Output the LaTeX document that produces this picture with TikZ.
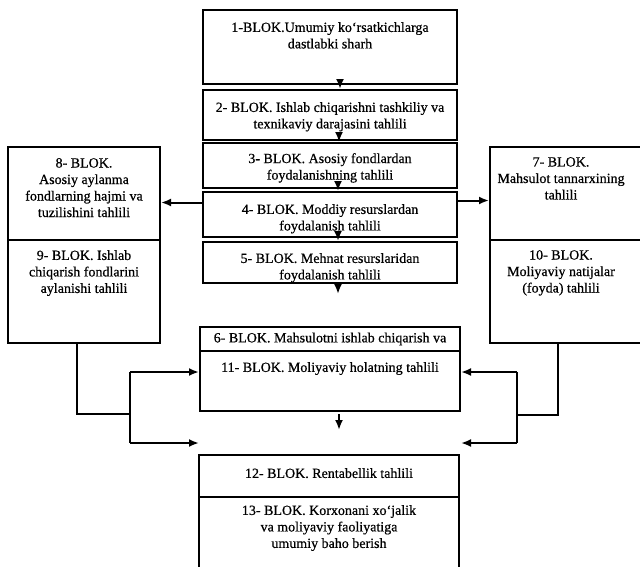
\documentclass[tikz,border=0pt]{standalone}
\usepackage{fontspec}
\setmainfont[FakeBold=0.6]{Liberation Serif}
\usetikzlibrary{arrows.meta}
\newcommand{\blk}[5]{\node[box, minimum width={#4-#2}, minimum height={#5-#3}] (#1) at ({(#2+#4)/2},{(#3+#5)/2}) {};}
\begin{document}
\begin{tikzpicture}[x=1pt,y=-1pt,
  box/.style={draw, line width=2pt, rectangle, inner sep=0pt},
  txt/.style={align=center, inner sep=0pt, anchor=north, font=\fontsize{14}{16.5}\selectfont},
  arr/.style={line width=2pt, -{Latex[length=10pt,width=8pt]}},
  ln/.style={line width=2pt}]
\useasboundingbox (0,0) rectangle (640,566);
% boxes
\blk{b1}{203}{10}{457}{84}
\blk{b2}{203}{90}{457}{140}
\blk{b3}{203}{143}{457}{188}
\blk{b4}{203}{192}{457}{237}
\blk{b5}{203}{242}{457}{283}
\blk{b8}{8}{147}{160}{240}
\blk{b9}{8}{240}{160}{343}
\blk{b7}{490}{147}{648}{240}
\blk{b10}{490}{240}{648}{343}
\blk{b6}{200}{327}{460}{351}
\blk{b11}{200}{351}{460}{411}
\blk{b12}{199}{455}{459}{497}
\blk{b13}{199}{497}{459}{572}
% texts
\node[txt] (t1) at ([yshift=-13pt]b1.north) {1-BLOK.Umumiy ko‘rsatkichlarga\\dastlabki sharh};
\node[txt] (t2) at ([yshift=-13pt]b2.north) {2- BLOK. Ishlab chiqarishni tashkiliy va\\texnikaviy darajasini tahlili};
\node[txt] (t3) at ([yshift=-11pt]b3.north) {3- BLOK. Asosiy fondlardan\\foydalanishning tahlili};
\node[txt] (t4) at ([yshift=-13pt]b4.north) {4- BLOK. Moddiy resurslardan\\foydalanish tahlili};
\node[txt] (t5) at ([yshift=-12pt]b5.north) {5- BLOK. Mehnat resurslaridan\\foydalanish tahlili};
\node[txt] (t8) at ([yshift=-12pt]b8.north) {8- BLOK.\\Asosiy aylanma\\fondlarning hajmi va\\tuzilishini tahlili};
\node[txt] (t9) at ([yshift=-11pt]b9.north) {9- BLOK. Ishlab\\chiqarish fondlarini\\aylanishi tahlili};
\node[txt] (t7) at ([yshift=-11pt]b7.north -| 561,0) {7- BLOK.\\Mahsulot tannarxining\\tahlili};
\node[txt] (t10) at ([yshift=-11pt]b10.north -| 561,0) {10- BLOK.\\Moliyaviy natijalar\\(foyda) tahlili};
\node[txt, anchor=center] (t6) at (b6.center) {6- BLOK. Mahsulotni ishlab chiqarish va};
\node[txt] (t11) at ([yshift=-12pt]b11.north) {11- BLOK. Moliyaviy holatning tahlili};
\node[txt] (t12) at ([yshift=-14pt]b12.north) {12- BLOK. Rentabellik tahlili};
\node[txt] (t13) at ([yshift=-9pt]b13.north) {13- BLOK. Korxonani xo‘jalik\\va moliyaviy faoliyatiga\\umumiy baho berish};
% vertical arrows in the centre column
\draw[arr] ([xshift=10pt]b1.south) -- ([xshift=10pt]b2.north);
\draw[arr] ([xshift=9pt]b2.south) -- ([xshift=9pt]b3.north);
\draw[arr] ([xshift=8pt]b3.south) -- ([xshift=8pt]b4.north);
\draw[arr] ([xshift=8pt]b4.south) -- ([xshift=8pt]b5.north);
\coordinate (e5) at (338,294);
\draw[arr] ([xshift=8pt]b5.south) -- (e5);
\coordinate (s11) at (339,414);
\coordinate (e11) at (339,430);
\draw[arr] (s11) -- (e11);
% side arrows from block 4
\draw[arr] ([yshift=12pt]b4.west) coordinate (l4) -- (l4 -| b8.east);
\draw[arr] ([yshift=14pt]b4.east) coordinate (r4) -- (r4 -| b7.west);
% left connector
\coordinate (ls) at (77,343);
\coordinate (lj) at (130,414);
\coordinate (la) at (130,372);
\coordinate (lb) at (130,443);
\coordinate (le) at (199,443);
\draw[ln] (ls) |- (lj);
\draw[ln] (la) -- (lb);
\draw[arr] (la) -- (la -| b11.west);
\draw[arr] (lb) -- (le);
% right connector
\coordinate (rs) at (558,343);
\coordinate (rj) at (517,415);
\coordinate (ra) at (517,372);
\coordinate (rb) at (517,443);
\coordinate (re) at (461,443);
\draw[ln] (rs) |- (rj);
\draw[ln] (ra) -- (rb);
\draw[arr] (ra) -- (ra -| b11.east);
\draw[arr] (rb) -- (re);
\end{tikzpicture}
\end{document}
